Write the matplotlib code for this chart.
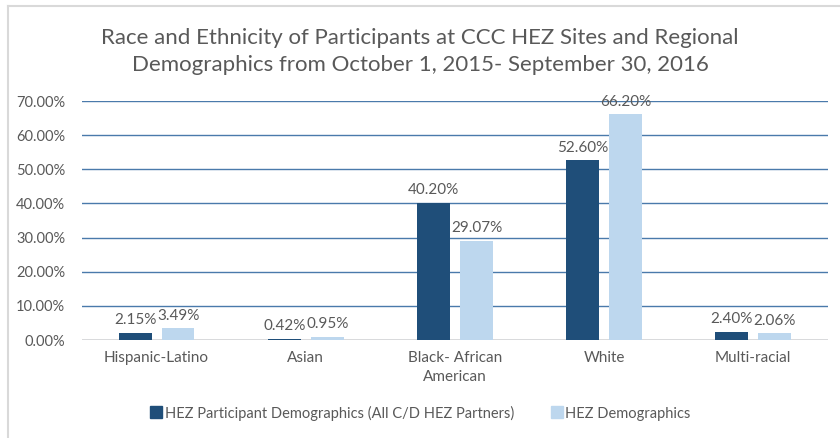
import matplotlib

matplotlib.use("Agg")
import matplotlib.pyplot as plt
import numpy as np
from matplotlib.lines import Line2D
from matplotlib.ticker import FuncFormatter

plt.rcParams["font.family"] = ["Lato", "DejaVu Sans"]

categories = ["Hispanic-Latino", "Asian", "Black- African\nAmerican", "White", "Multi-racial"]
participants = [2.15, 0.42, 40.20, 52.60, 2.40]
regional = [3.49, 0.95, 29.07, 66.20, 2.06]
series_names = ["HEZ Participant Demographics (All C/D HEZ Partners)", "HEZ Demographics"]
yticks = [0, 10, 20, 30, 40, 50, 60, 70]

dark = "#1F4E79"
light = "#BDD7EE"
text_gray = "#595959"

fig = plt.figure(figsize=(8.4, 4.38), dpi=100)
ax = fig.add_axes([0.0976, 0.2237, 0.888, 0.5457])

x = np.arange(len(categories))
w = 0.22
off = 0.144
b1 = ax.bar(x - off, participants, w, color=dark, zorder=3)
b2 = ax.bar(x + off, regional, w, color=light, zorder=3)

for bars, vals in ((b1, participants), (b2, regional)):
    for rect, v in zip(bars, vals):
        ax.text(rect.get_x() + rect.get_width() / 2, v + 1.6, f"{v:.2f}%",
                ha="center", va="bottom", fontsize=11, color=text_gray, zorder=4)

ax.set_xlim(-0.5, len(categories) - 0.5)
ax.set_ylim(0, 70)
ax.set_yticks(yticks)
ax.yaxis.set_major_formatter(FuncFormatter(lambda v, _: f"{v:.2f}%"))
ax.set_xticks(x)
ax.set_xticklabels(categories, fontsize=11, color=text_gray, linespacing=1.4)
ax.tick_params(axis="y", labelsize=10.5, labelcolor=text_gray, length=0, pad=12)
ax.tick_params(axis="x", length=0, pad=8)
for s in ax.spines.values():
    s.set_visible(False)
ax.grid(axis="y", color="#4A7AAB", linewidth=1.0, zorder=0)
ax.axhline(0, color="#D9D9D9", linewidth=1.2, zorder=2)

fig.text(0.5, 0.882, "Race and Ethnicity of Participants at CCC HEZ Sites and Regional\n"
         "Demographics from October 1, 2015- September 30, 2016",
         ha="center", va="center", fontsize=16, color=text_gray, linespacing=1.45)

handles = [Line2D([], [], marker="s", linestyle="", markersize=8, color=dark),
           Line2D([], [], marker="s", linestyle="", markersize=8, color=light)]
fig.legend(handles, series_names, loc="center", bbox_to_anchor=(0.5, 0.057), ncol=2,
           frameon=False, fontsize=10.5, labelcolor=text_gray, handletextpad=0.1,
           columnspacing=2.4, handlelength=1.0)

# light gray frame of the chart object (top and left edges visible)
fig.add_artist(Line2D([8 / 840, 1.0], [1 - 6 / 438, 1 - 6 / 438], transform=fig.transFigure,
                      color="#D9D9D9", linewidth=1.5))
fig.add_artist(Line2D([8 / 840, 8 / 840], [0, 1 - 6 / 438], transform=fig.transFigure,
                      color="#D9D9D9", linewidth=1.5))

fig.savefig("out.png", dpi=100)
